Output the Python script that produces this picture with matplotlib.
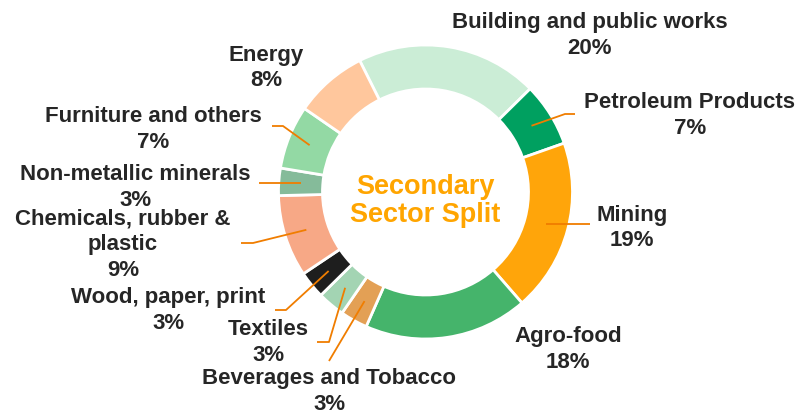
import numpy as np
import matplotlib.pyplot as plt

plt.rcParams['font.family'] = ['Liberation Sans', 'DejaVu Sans']

# slices, clockwise from the top-left
sectors = ["Building and public works", "Petroleum Products", "Mining", "Agro-food",
           "Beverages and Tobacco", "Textiles", "Wood, paper, print",
           "Chemicals, rubber &\nplastic", "Non-metallic minerals",
           "Furniture and others", "Energy"]
shares = [20, 7, 19, 18, 3, 3, 3, 9, 3, 7, 8]
colors = ["#CBEDD6", "#00A060", "#FFA50A", "#45B46B", "#E3A055", "#A3D4B3",
          "#1E1E1E", "#F7A886", "#85BB9A", "#93D9A4", "#FFC79D"]

W, H = 799, 414
cx, cy = 425.5, 193
R_OUT, RING = 147, 44
LINE_H = 26

def py(y):
    return H - y

# label centre positions (pixels) and leader line points after the anchor
label_pos = [(590, 35), (690, 116), (632, 228), (568, 350), (329, 392),
             (268, 343), (168, 311), (123, 245), (135, 187), (153, 129), (266, 68)]
leaders = [None,
           [(565, 115), (575, 115)],
           [(590, None)],
           None,
           [(329, 362)],
           [(329, 343), (317, 343)],
           [(286, 311), (275, 311)],
           [(253, 244), (241, 244)],
           [(259, None)],
           [(283, 127), (272, 127)],
           None]

fig = plt.figure(figsize=(W / 100, H / 100), dpi=100)
ax = fig.add_axes([0, 0, 1, 1])

wedges, _ = ax.pie(shares, colors=colors, startangle=116.6, counterclock=False,
                   radius=R_OUT, center=(cx, py(cy)),
                   wedgeprops=dict(width=RING, edgecolor='white', linewidth=2))
ax.set_xlim(0, W)
ax.set_ylim(0, H)
ax.set_aspect('equal')
ax.axis('off')

r_mid = R_OUT - RING / 2
for w, name, pct, pos, lead in zip(wedges, sectors, shares, label_pos, leaders):
    # one text per line so the boxes stay tight
    lines = name.split("\n") + [f"{pct}%"]
    n = len(lines)
    for i, s in enumerate(lines):
        y = pos[1] + (i - (n - 1) / 2) * LINE_H
        ax.text(pos[0], py(y), s, ha='center', va='center',
                fontsize=16, fontweight='bold', color='#262626')
    if lead is None:
        continue
    t = np.deg2rad((w.theta1 + w.theta2) / 2)
    ax_x = cx + r_mid * np.cos(t)
    ax_y = py(cy) + r_mid * np.sin(t)
    xs, ys = [ax_x], [ax_y]
    for px_, py_ in lead:
        xs.append(px_)
        ys.append(ax_y if py_ is None else py(py_))
    ax.plot(xs, ys, color='#F07D00', lw=1.3, solid_capstyle='butt')

ax.text(cx, py(201), "Secondary\nSector Split", ha='center', va='center',
        fontsize=19.5, fontweight='bold', color='#FFA500', linespacing=1.15)

fig.savefig("out.png", dpi=100)
